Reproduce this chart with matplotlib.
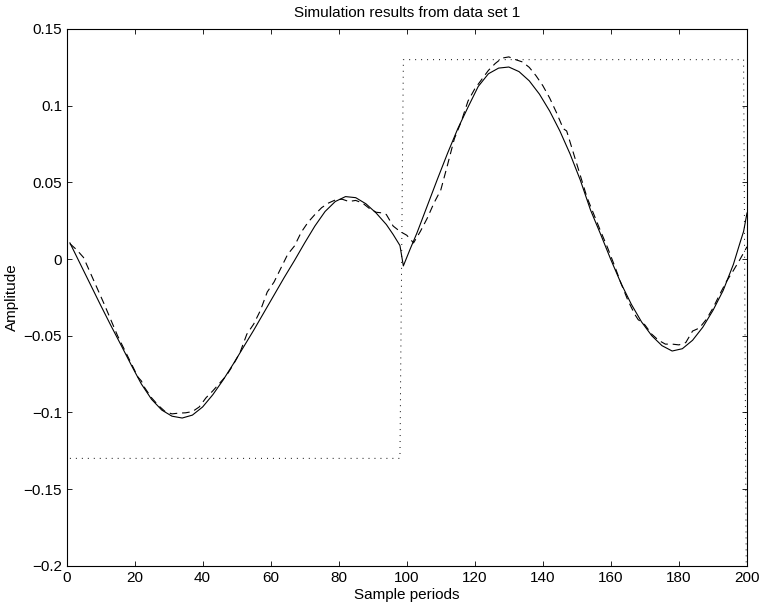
import matplotlib
matplotlib.use('Agg')
from matplotlib import pyplot as plt

plt.rcParams['font.family'] = ['Liberation Sans', 'DejaVu Sans']
plt.rcParams['lines.scale_dashes'] = False

# simulated model output (solid)
t_model = [1, 4, 7, 10, 13, 16, 19, 22, 25, 28, 31, 34, 37, 40, 43, 46, 49, 52, 55, 58,
           61, 64, 67, 70, 73, 76, 79, 82, 85, 88, 91, 94, 96, 98,
           99, 101, 103, 106, 109, 112, 115, 118, 121, 124, 127, 130, 133, 136, 139, 142,
           145, 148, 151, 154, 157, 160, 163, 166, 169, 172, 175, 178, 181, 184, 187, 190,
           193, 196, 198, 199, 200]
y_model = [0.0105, -0.0030, -0.0165, -0.0300, -0.0432, -0.0560, -0.0690, -0.0815, -0.0915, -0.0985,
           -0.1025, -0.1037, -0.1018, -0.0965, -0.0885, -0.0790, -0.0685, -0.0575, -0.0465, -0.0350,
           -0.0235, -0.0120, -0.0010, 0.0105, 0.0215, 0.0310, 0.0375, 0.0407, 0.0400, 0.0360,
           0.0300, 0.0225, 0.0160, 0.0088,
           -0.0045, 0.0065, 0.0170, 0.0345, 0.0520, 0.0690, 0.0850, 0.0990, 0.1125, 0.1208,
           0.1245, 0.1252, 0.1222, 0.1162, 0.1075, 0.0965, 0.0835, 0.0685, 0.0515, 0.0320,
           0.0160, -0.0005, -0.0160, -0.0295, -0.0410, -0.0500, -0.0565, -0.0600, -0.0585, -0.0530,
           -0.0445, -0.0335, -0.0205, -0.0035, 0.0110, 0.0180, 0.0300]

# measured output (dashed)
t_meas = [1, 3, 5, 7, 9, 11, 13, 15, 17, 19, 21, 22, 23, 25, 27, 29, 31, 33, 35, 37,
          39, 41, 43, 45, 47, 49, 51, 53, 55, 57, 59, 61, 63, 65, 67, 69, 71, 73, 75, 77,
          79, 81, 83, 85, 87, 89, 91, 93, 94, 96, 98, 100, 102, 104, 106, 108, 110, 112, 114, 116,
          118, 120, 122, 124, 126, 128, 130, 132, 134, 136, 138, 140, 142, 144, 146, 147, 149, 151, 153, 155,
          157, 159, 161, 163, 165, 167, 168, 170, 172, 174, 176, 178, 180, 182, 184, 186, 188, 190, 192, 194,
          196, 198, 200]
y_meas = [0.0100, 0.0060, 0.0010, -0.0090, -0.0190, -0.0290, -0.0395, -0.0500, -0.0590, -0.0680,
          -0.0770, -0.0795, -0.0840, -0.0905, -0.0955, -0.0995, -0.1010, -0.1005, -0.1003, -0.0995,
          -0.0965, -0.0905, -0.0860, -0.0810, -0.0760, -0.0690, -0.0610, -0.0490, -0.0425, -0.0335,
          -0.0215, -0.0150, -0.0060, 0.0030, 0.0085, 0.0175, 0.0240, 0.0290, 0.0335, 0.0365,
          0.0385, 0.0390, 0.0375, 0.0382, 0.0365, 0.0330, 0.0305, 0.0300, 0.0290, 0.0215,
          0.0180, 0.0155, 0.0105, 0.0180, 0.0265, 0.0365, 0.0450, 0.0615, 0.0785, 0.0895,
          0.1030, 0.1110, 0.1170, 0.1230, 0.1275, 0.1310, 0.1318, 0.1300, 0.1285, 0.1250,
          0.1195, 0.1130, 0.1050, 0.0955, 0.0850, 0.0835, 0.0690, 0.0545, 0.0400, 0.0290,
          0.0180, 0.0075, -0.0040, -0.0160, -0.0270, -0.0360, -0.0395, -0.0430, -0.0490, -0.0530,
          -0.0555, -0.0555, -0.0560, -0.0545, -0.0470, -0.0450, -0.0395, -0.0320, -0.0230, -0.0145,
          -0.0075, 0.0000, 0.0080]

# input signal (dotted)
t_input = [1, 98, 99, 199, 200]
u_input = [-0.13, -0.13, 0.13, 0.13, -0.30]

x_ticks = [0, 20, 40, 60, 80, 100, 120, 140, 160, 180, 200]
y_ticks = [-0.2, -0.15, -0.1, -0.05, 0, 0.05, 0.1, 0.15]


def tick_text(v):
    return ('%g' % v).replace('-', '\u2212')


fig = plt.figure(figsize=(7.6, 6.09), dpi=100)
ax = fig.add_axes([0.0875, 0.0711, 0.8954, 0.8813])

ax.plot(t_model, y_model, color='black', linewidth=0.8)
ax.plot(t_meas, y_meas, color='black', linewidth=0.8, dashes=(5.5, 3.5))
ax.plot(t_input, u_input, color='black', linewidth=0.7, dashes=(0.7, 3.6))

ax.set_xlim(0, 200)
ax.set_ylim(-0.2, 0.15)
ax.set_xticks(x_ticks)
ax.set_xticklabels([tick_text(v) for v in x_ticks])
ax.set_yticks(y_ticks)
ax.set_yticklabels([tick_text(v) for v in y_ticks])

ax.tick_params(direction='in', length=3.6, width=0.6, top=True, right=True,
               labelsize=11, colors='black')
ax.tick_params(axis='x', pad=3.5)
ax.tick_params(axis='y', pad=3.2)
for s in ax.spines.values():
    s.set_linewidth(0.8)

ax.set_title('Simulation results from data set 1', fontsize=11, pad=8.5)
ax.set_xlabel('Sample periods', fontsize=11, labelpad=2.5)
ax.set_ylabel('Amplitude', fontsize=11, labelpad=3)

fig.savefig('out.png', dpi=100)
